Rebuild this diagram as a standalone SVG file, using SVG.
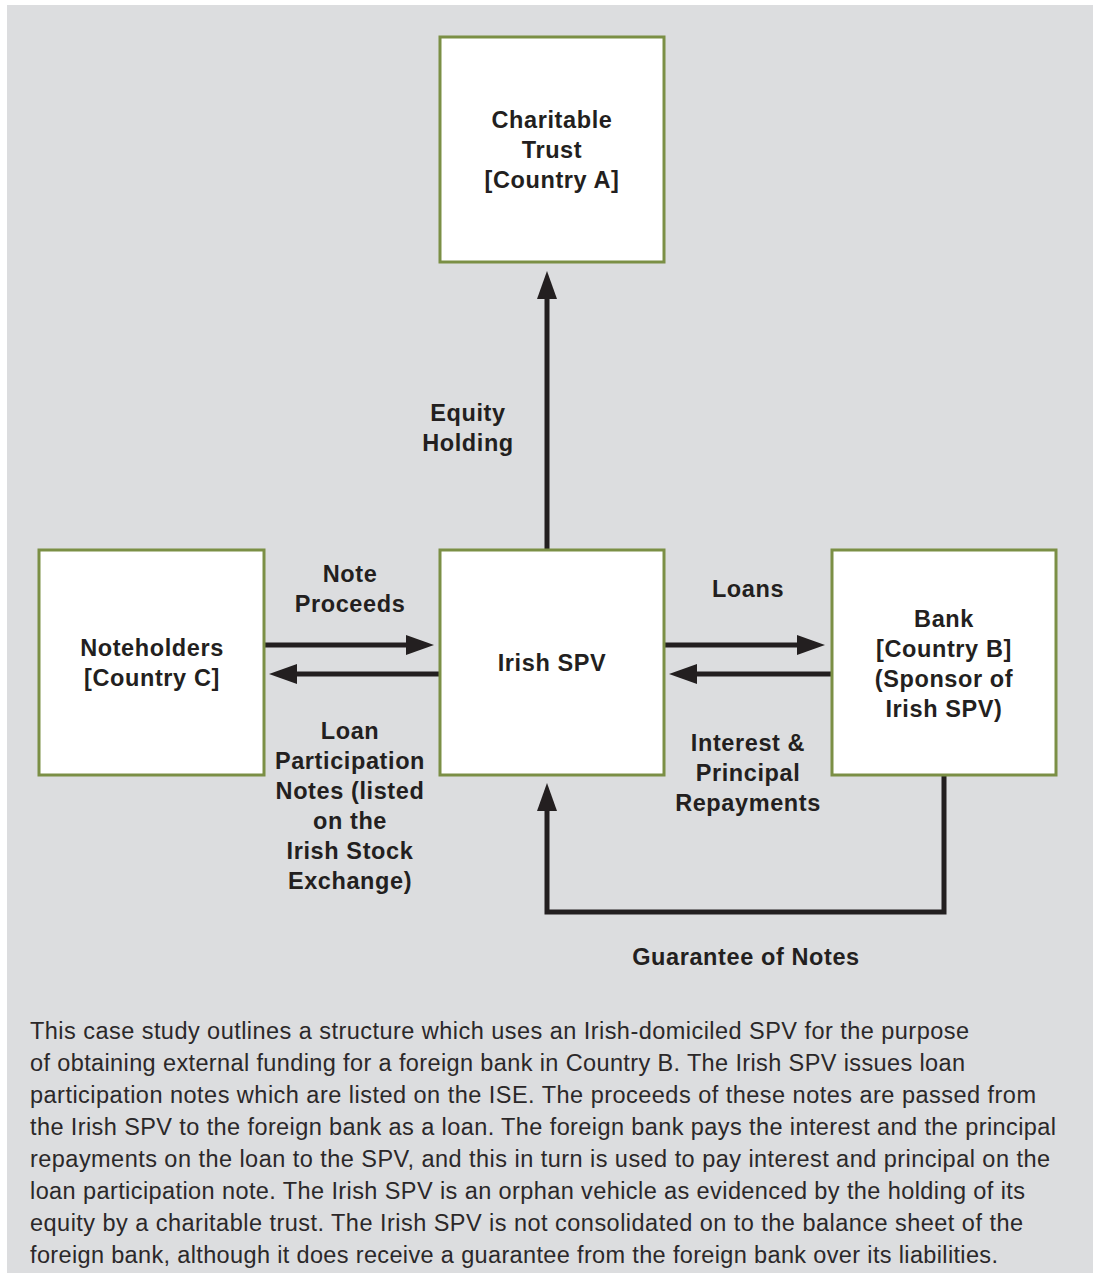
<svg xmlns="http://www.w3.org/2000/svg" width="1093" height="1273" viewBox="0 0 1093 1273">
<defs>
<style>
.bg{fill:#dcdddf}
.box{fill:#ffffff;stroke:#7b8f45;stroke-width:3}
.lbl{font-family:"Liberation Sans",Arial,sans-serif;font-weight:bold;font-size:23.5px;letter-spacing:0.6px;fill:#231f20;text-anchor:middle}
.body{font-family:"Liberation Sans",Arial,sans-serif;font-size:23.5px;fill:#2b2829}
.con{fill:none;stroke:#231f20;stroke-width:5}
</style>
<marker id="ah" markerUnits="userSpaceOnUse" viewBox="0 0 28 20" markerWidth="28" markerHeight="20" refX="0" refY="10" orient="auto">
<path d="M0,0 L28,10 L0,20 z" fill="#231f20"/>
</marker>
</defs>
<rect class="bg" x="7" y="5" width="1086" height="1268"/>

<g id="connectors">
<path class="con" d="M547,550 V299" marker-end="url(#ah)"/>
<path class="con" d="M264,645 H406" marker-end="url(#ah)"/>
<path class="con" d="M440,674 H297" marker-end="url(#ah)"/>
<path class="con" d="M665,645 H797" marker-end="url(#ah)"/>
<path class="con" d="M832,674 H697" marker-end="url(#ah)"/>
<path class="con" d="M944,775 V912 H547 V811" marker-end="url(#ah)"/>
</g>

<g id="trust">
<rect class="box" x="440" y="37" width="224" height="225"/>
<text class="lbl" x="552" y="128">Charitable</text>
<text class="lbl" x="552" y="158">Trust</text>
<text class="lbl" x="552" y="188">[Country A]</text>
</g>

<g id="noteholders">
<rect class="box" x="39" y="550" width="225" height="225"/>
<text class="lbl" x="152" y="656">Noteholders</text>
<text class="lbl" x="152" y="686">[Country C]</text>
</g>

<g id="spv">
<rect class="box" x="440" y="550" width="224" height="225"/>
<text class="lbl" x="552" y="671">Irish SPV</text>
</g>

<g id="bank">
<rect class="box" x="832" y="550" width="224" height="225"/>
<text class="lbl" x="944" y="627">Bank</text>
<text class="lbl" x="944" y="657">[Country B]</text>
<text class="lbl" x="944" y="687">(Sponsor of</text>
<text class="lbl" x="944" y="717">Irish SPV)</text>
</g>

<g id="labels">
<text class="lbl" x="468" y="421">Equity</text>
<text class="lbl" x="468" y="451">Holding</text>
<text class="lbl" x="350" y="582">Note</text>
<text class="lbl" x="350" y="612">Proceeds</text>
<text class="lbl" x="748" y="597">Loans</text>
<text class="lbl" x="748" y="751">Interest &amp;</text>
<text class="lbl" x="748" y="781">Principal</text>
<text class="lbl" x="748" y="811">Repayments</text>
<text class="lbl" x="350" y="739">Loan</text>
<text class="lbl" x="350" y="769">Participation</text>
<text class="lbl" x="350" y="799">Notes (listed</text>
<text class="lbl" x="350" y="829">on the</text>
<text class="lbl" x="350" y="859">Irish Stock</text>
<text class="lbl" x="350" y="889">Exchange)</text>
<text class="lbl" x="746" y="965">Guarantee of Notes</text>
</g>

<g id="caption">
<text class="body" x="30" y="1039" textLength="939" lengthAdjust="spacing">This case study outlines a structure which uses an Irish-domiciled SPV for the purpose</text>
<text class="body" x="30" y="1071" textLength="935" lengthAdjust="spacing">of obtaining external funding for a foreign bank in Country B. The Irish SPV issues loan</text>
<text class="body" x="30" y="1103" textLength="1006" lengthAdjust="spacing">participation notes which are listed on the ISE. The proceeds of these notes are passed from</text>
<text class="body" x="30" y="1135" textLength="1026" lengthAdjust="spacing">the Irish SPV to the foreign bank as a loan. The foreign bank pays the interest and the principal</text>
<text class="body" x="30" y="1167" textLength="1020" lengthAdjust="spacing">repayments on the loan to the SPV, and this in turn is used to pay interest and principal on the</text>
<text class="body" x="30" y="1199" textLength="995" lengthAdjust="spacing">loan participation note. The Irish SPV is an orphan vehicle as evidenced by the holding of its</text>
<text class="body" x="30" y="1231" textLength="993" lengthAdjust="spacing">equity by a charitable trust. The Irish SPV is not consolidated on to the balance sheet of the</text>
<text class="body" x="30" y="1263" textLength="968" lengthAdjust="spacing">foreign bank, although it does receive a guarantee from the foreign bank over its liabilities.</text>
</g>
</svg>
